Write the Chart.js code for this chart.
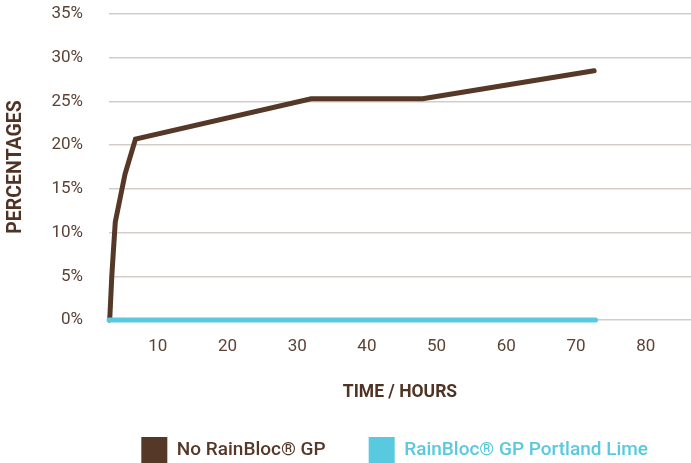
<!DOCTYPE html>
<html>
<head>
<meta charset="utf-8">
<script src="https://cdn.jsdelivr.net/npm/chart.js@4"></script>
<style>
  html, body { margin: 0; padding: 0; background: #fff; }
  #wrap { width: 691px; height: 463px; position: relative; }
</style>
</head>
<body>
<div id="wrap"><canvas id="absorptionChart"></canvas></div>
<script>
    // time (hours) and water absorption (%)
    const seriesNames = ["No RainBloc® GP", "RainBloc® GP Portland Lime"];
    const hoursNoRainBloc = [3.1, 3.4, 3.6, 3.9, 5.3, 6.8, 32, 48, 72.6];
    const pctNoRainBloc = [0, 5, 7.5, 11.2, 16.7, 20.7, 25.3, 25.3, 28.5];
    const hoursPortland = [3, 72.8];
    const pctPortland = [0, 0];
    const yTicks = [0, 5, 10, 15, 20, 25, 30, 35];

    const brown = "#553827";
    const cyan = "#58c9df";
    const tickColor = "#5c4235";
    const gridColor = "#d3cdca";

    const toPoints = (xs, ys) => xs.map((x, i) => ({ x: x, y: ys[i] }));

    const ctx = document.getElementById("absorptionChart").getContext("2d");
    const absorptionChart = new Chart(ctx, {
        type: "line",
        data: {
            datasets: [
                {
                    label: seriesNames[0],
                    data: toPoints(hoursNoRainBloc, pctNoRainBloc),
                    borderColor: brown,
                    backgroundColor: brown,
                    borderWidth: 5,
                    pointRadius: 0,
                    borderCapStyle: "round",
                    clip: false,
                    order: 2,
                },
                {
                    label: seriesNames[1],
                    data: toPoints(hoursPortland, pctPortland),
                    borderColor: cyan,
                    backgroundColor: cyan,
                    borderWidth: 5,
                    pointRadius: 0,
                    borderCapStyle: "round",
                    clip: false,
                    order: 1,
                },
            ],
        },
        options: {
            responsive: true,
            maintainAspectRatio: false,
            animation: false,
            layout: { padding: { top: 14, right: 0, left: 0, bottom: -10 } },
            plugins: {
                tooltip: { enabled: false },
                legend: {
                    position: "bottom",
                    align: "end",
                    labels: {
                        boxWidth: 26,
                        boxHeight: 26,
                        padding: 43,
                        font: { family: "Roboto", size: 19, weight: "500" },
                        generateLabels: (chart) => chart.data.datasets.map((ds, i) => ({
                            text: ds.label,
                            fillStyle: ds.borderColor,
                            strokeStyle: ds.borderColor,
                            lineWidth: 0,
                            fontColor: ds.borderColor,
                            hidden: false,
                            datasetIndex: i,
                        })),
                    },
                },
            },
            scales: {
                x: {
                    type: "linear",
                    min: 3,
                    max: 86.5,
                    afterFit: (scale) => {
                        scale.height = 74;
                    },
                    grid: { display: false, drawTicks: false },
                    border: { display: false },
                    ticks: {
                        stepSize: 10,
                        includeBounds: false,
                        padding: 17,
                        color: tickColor,
                        font: { family: "Roboto", size: 17 },
                    },
                    title: {
                        display: true,
                        text: "TIME / HOURS",
                        color: "#4f3325",
                        font: { family: "Roboto", size: 17.5, weight: "bold" },
                        padding: { top: 26, bottom: -9 },
                    },
                },
                y: {
                    min: 0,
                    max: 35,
                    afterBuildTicks: (scale) => {
                        scale.ticks = yTicks.map((v) => ({ value: v }));
                    },
                    afterFit: (scale) => {
                        scale.width = 109;
                    },
                    grid: { color: gridColor, lineWidth: 1.5, drawTicks: true, tickLength: 26, tickColor: "transparent" },
                    border: { display: false },
                    ticks: {
                        padding: 0,
                        color: tickColor,
                        font: { family: "Roboto", size: 17 },
                        callback: (v) => v + "%",
                    },
                    title: {
                        display: true,
                        text: "PERCENTAGES",
                        color: "#4f3325",
                        font: { family: "Roboto", size: 19.5, weight: "bold" },
                        padding: { top: 4, bottom: 0 },
                    },
                },
            },
        },
    });
</script>
</body>
</html>
